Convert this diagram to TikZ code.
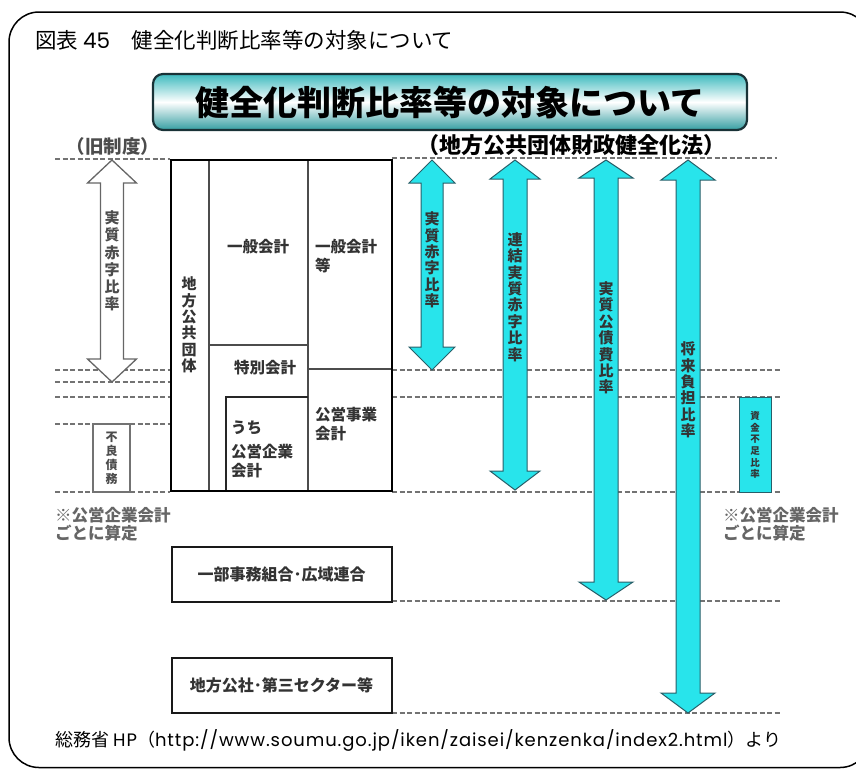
\documentclass[tikz,border=0pt]{standalone}
\usepackage{fontspec}
\setmainfont{Noto Sans CJK JP}
\newfontfamily\latinfont{Poppins}
\newfontfamily\latinwide[LetterSpace=5]{Poppins}
\definecolor{acyan}{RGB}{40,228,235}
\definecolor{aedge}{RGB}{40,95,105}
\definecolor{bteal}{RGB}{62,186,190}
\definecolor{bedge}{RGB}{25,50,55}
\newcommand\dbarrow[7]{%
  \path[#1] (#2,#3) -- (#2+#5,#3+#7) -- (#2+#6,#3+#7) -- (#2+#6,#4-#7) -- (#2+#5,#4-#7)
   -- (#2,#4) -- (#2-#5,#4-#7) -- (#2-#6,#4-#7) -- (#2-#6,#3+#7) -- (#2-#5,#3+#7) -- cycle;}
\begin{document}
\begin{tikzpicture}[x=1pt,y=-1pt,
  dline/.style={draw=black!55, line width=1.3pt, dash pattern=on 5pt off 2.5pt},
  tline/.style={draw=black!70, line width=1.4pt},
  lbl/.style={font=\fontsize{15.5}{18}\selectfont\bfseries, text=black!80, inner sep=0pt},
  vlbl/.style={align=center, font=\fontsize{15}{16.4}\selectfont\bfseries, text=black!80, inner sep=0pt},
  notelbl/.style={font=\fontsize{16.5}{18}\selectfont\bfseries, text=black!60, inner sep=0pt, anchor=west},
  boxstyle/.style={draw=black!90, line width=2pt, fill=white, minimum width=220pt, minimum height=55pt,
     font=\fontsize{16}{18}\selectfont\bfseries, text=black!80},
  cyanarrow/.style={fill=acyan, draw=aedge, line width=1pt},
  whitearrow/.style={fill=white, draw=black!60, line width=1.3pt}
]
\useasboundingbox (0,0) rectangle (856,769);
\clip (0,0) rectangle (856,769);
\draw[line width=1.5pt, rounded corners=30pt] (9,12) rectangle (870,767.5);

% title
\node[anchor=west, font=\fontsize{21.5}{23}\selectfont, inner sep=0pt] (title) at (35,40) {図表 {\latinfont 45}　健全化判断比率等の対象について};

% banner
\shade[rounded corners=10pt, top color=bteal, bottom color=bteal!85!black, middle color=white] (153,74) rectangle (747,130);
\draw[bedge, line width=2.2pt, rounded corners=10pt] (153,74) rectangle (747,130);
\node[font=\fontsize{34}{36}\selectfont\bfseries, inner sep=0pt] (banner) at (450,103) {健全化判断比率等の対象について};

% subtitles
\node[font=\fontsize{18.5}{20}\selectfont\bfseries, text=black!70, inner sep=0pt] (old) at (113,146) {（旧制度）};
\node[font=\fontsize{22}{24}\selectfont\bfseries, inner sep=0pt] (law) at (571,145) {（地方公共団体財政健全化法）};

% dashed levels
\foreach \yy in {159,370,382,397,424,492} \draw[dline] (55,\yy) -- (170,\yy);
\foreach \yy/\xx in {158/777,370/781,397/781,492/781,601/781,713/781} \draw[dline] (392,\yy) -- (\xx,\yy);

% table
\draw[tline] (209,160) -- (209,491);
\draw[tline] (308,160) -- (308,491);
\draw[tline] (209,345) -- (308,345);
\draw[tline] (308,369) -- (392,369);
\draw[draw=black!85, line width=1.6pt] (226,491) -- (226,397) -- (308,397);
\draw[black, line width=2pt] (171,160) rectangle (392,491);

\node[vlbl] (dantai) at (189,325) {地\\方\\公\\共\\団\\体};
\node[lbl] (ippan) at (258,247) {一般会計};
\node[lbl, anchor=west] (ippan2) at (315,247) {一般会計};
\node[lbl, anchor=west] (ippan3) at (315,266) {等};
\node[lbl] (tokubetsu) at (265,368) {特別会計};
\node[lbl, anchor=west] (uchi1) at (231,428) {うち};
\node[lbl, anchor=west] (uchi2) at (231,452) {公営企業};
\node[lbl, anchor=west] (uchi3) at (231,471) {会計};
\node[lbl, anchor=west] (koei1) at (315,415) {公営事業};
\node[lbl, anchor=west] (koei2) at (315,434) {会計};

% old system arrow and box
\dbarrow{whitearrow}{112}{160}{382}{24.5}{11.5}{23}
\node[vlbl, font=\fontsize{15}{17.2}\selectfont\bfseries, text=black!70] (oldratio) at (112,261) {実\\質\\赤\\字\\比\\率};
\draw[draw=black!55, line width=1.5pt, fill=white] (93,424) rectangle (130,492);
\node[vlbl, font=\fontsize{12}{14}\selectfont\bfseries, text=black!70] (furyo) at (111.5,458) {不\\良\\債\\務};

% cyan arrows
\dbarrow{cyanarrow}{432}{160}{370}{23}{11}{23}
\node[vlbl] (a1) at (432,260) {実\\質\\赤\\字\\比\\率};
\dbarrow{cyanarrow}{515}{160}{490}{25}{12}{19}
\node[vlbl] (a2) at (515,297) {連\\結\\実\\質\\赤\\字\\比\\率};
\dbarrow{cyanarrow}{606}{160}{600}{27}{12}{18}
\node[vlbl] (a3) at (606,338) {実\\質\\公\\債\\費\\比\\率};
\dbarrow{cyanarrow}{688}{160}{713}{27}{12}{20}
\node[vlbl] (a4) at (688,390) {将\\来\\負\\担\\比\\率};

% shortfall ratio box
\draw[cyanarrow] (739,397) rectangle (771,492);
\node[vlbl, font=\fontsize{9.5}{11.7}\selectfont\bfseries] (shikin) at (755,445) {資\\金\\不\\足\\比\\率};

% notes
\node[notelbl] (nl1) at (55,515) {※公営企業会計};
\node[notelbl] (nl2) at (55,533) {ごとに算定};
\node[notelbl] (nr1) at (723,515) {※公営企業会計};
\node[notelbl] (nr2) at (723,533) {ごとに算定};

% lower boxes
\node[boxstyle] (kumiai) at (281.5,574.5) {一部事務組合･広域連合};
\node[boxstyle] (kosha) at (281.5,685.5) {地方公社･第三セクター等};

% source
\node[anchor=west, font=\fontsize{18}{20}\selectfont, inner sep=0pt] (src) at (55,740) {総務省 {\latinwide HP}（{\latinwide http://www.soumu.go.jp/iken/zaisei/kenzenka/index2.html}）より};
\end{tikzpicture}
\end{document}
